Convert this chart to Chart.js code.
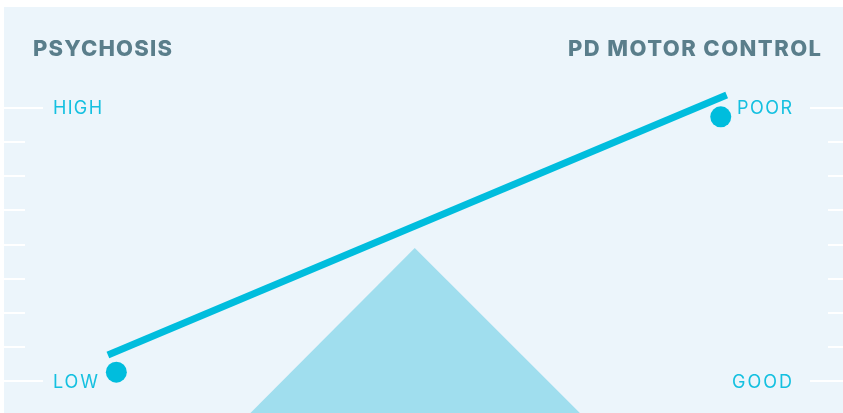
<!DOCTYPE html>
<html>
<head>
<meta charset="utf-8">
<script src="https://cdn.jsdelivr.net/npm/chart.js@4"></script>
<style>
html,body{margin:0;padding:0;background:#fff;}
#wrap{width:843px;height:413px;position:relative;}
</style>
</head>
<body>
<div id="wrap"><canvas id="c" width="843" height="413"></canvas></div>
<script>
// Axis titles (categories)
const categories = ['PSYCHOSIS', 'PD MOTOR CONTROL'];
// Scale end labels
const leftLabels = ['LOW', 'HIGH'];
const rightLabels = ['GOOD', 'POOR'];
// Tick levels on the side scales
const tickLevels = [0, 1, 2, 3, 4, 5, 6, 7, 8];
// Lever (see-saw) line: x position (0-100) and level
const leverX = [12.8, 86.2];
const leverY = [0.76, 8.38];
// Dots marking each side's state
const dotX = [13.8, 85.5];
const dotY = [0.26, 7.74];
// Fulcrum triangle
const fulcrumX = [29.7, 49.2, 68.8];
const fulcrumY = [-0.94, 3.9, -0.94];

const CYAN = '#00BDDD';
const LABEL = '#14C0E0';
const TITLE = '#5A7E8B';
const PANEL = '#ECF5FB';

const zip = (xs, ys) => xs.map((x, i) => ({x, y: ys[i]}));

function fitText(ctx, text, x, y, width) {
  ctx.letterSpacing = '0px';
  const n = text.length;
  const w = ctx.measureText(text).width;
  const ls = n > 1 ? (width - w) / (n - 1) : 0;
  ctx.letterSpacing = ls.toFixed(2) + 'px';
  if (ctx.textAlign === 'right') {
    ctx.fillText(text, x + ls, y);
  } else {
    ctx.fillText(text, x, y);
  }
  ctx.letterSpacing = '0px';
}

const decor = {
  id: 'decor',
  beforeDraw(chart) {
    const ctx = chart.ctx;
    ctx.save();
    ctx.fillStyle = '#ffffff';
    ctx.fillRect(0, 0, chart.width, chart.height);
    ctx.fillStyle = PANEL;
    ctx.fillRect(4, 7, chart.width - 4, chart.height - 7);
    const ys = chart.scales.y;
    ctx.strokeStyle = '#ffffff';
    ctx.lineWidth = 2;
    tickLevels.forEach((v, i) => {
      const py = Math.round(ys.getPixelForValue(v));
      const long = (i === 0 || i === tickLevels.length - 1);
      ctx.beginPath();
      ctx.moveTo(4, py); ctx.lineTo(long ? 43 : 25, py);
      ctx.moveTo(long ? 810 : 828, py); ctx.lineTo(chart.width, py);
      ctx.stroke();
    });
    // titles
    ctx.fillStyle = TITLE;
    ctx.font = '800 22px Inter';
    ctx.textBaseline = 'alphabetic';
    ctx.textAlign = 'left';
    fitText(ctx, categories[0], 33, 56, 139);
    ctx.textAlign = 'right';
    fitText(ctx, categories[1], 821, 56, 253);
    // labels
    ctx.fillStyle = LABEL;
    ctx.font = '400 18px Inter';
    ctx.textBaseline = 'alphabetic';
    const lo = ys.getPixelForValue(tickLevels[0]);
    const hi = ys.getPixelForValue(tickLevels[tickLevels.length - 1]);
    ctx.textAlign = 'left';
    fitText(ctx, leftLabels[1], 53, hi + 6.5, 49);
    fitText(ctx, leftLabels[0], 53, lo + 6.5, 45);
    ctx.textAlign = 'right';
    fitText(ctx, rightLabels[1], 792, hi + 6.5, 55);
    fitText(ctx, rightLabels[0], 792, lo + 6.5, 60);
    ctx.restore();
  }
};

new Chart(document.getElementById('c'), {
  type: 'scatter',
  data: {
    datasets: [
      {
        type: 'line',
        data: zip(fulcrumX, fulcrumY),
        borderWidth: 0,
        borderColor: 'rgba(0,0,0,0)',
        backgroundColor: '#A0DEEE',
        fill: 'shape',
        pointRadius: 0,
        tension: 0,
        clip: false,
        order: 3
      },
      {
        type: 'line',
        data: zip(leverX, leverY),
        borderColor: CYAN,
        borderWidth: 7,
        borderCapStyle: 'butt',
        pointRadius: 0,
        fill: false,
        tension: 0,
        clip: false,
        order: 2
      },
      {
        data: zip(dotX, dotY),
        backgroundColor: CYAN,
        borderWidth: 0,
        pointRadius: 10.5,
        pointHoverRadius: 10.5,
        clip: false,
        order: 1
      }
    ]
  },
  options: {
    responsive: false,
    animation: false,
    devicePixelRatio: 1,
    layout: { padding: 0, autoPadding: false },
    plugins: { legend: { display: false }, tooltip: { enabled: false }, title: { display: false } },
    scales: {
      x: { type: 'linear', display: false, min: 0, max: 100 },
      y: { type: 'linear', display: false, min: -0.9377, max: 11.1648 }
    }
  },
  plugins: [decor]
});
</script>
</body>
</html>
